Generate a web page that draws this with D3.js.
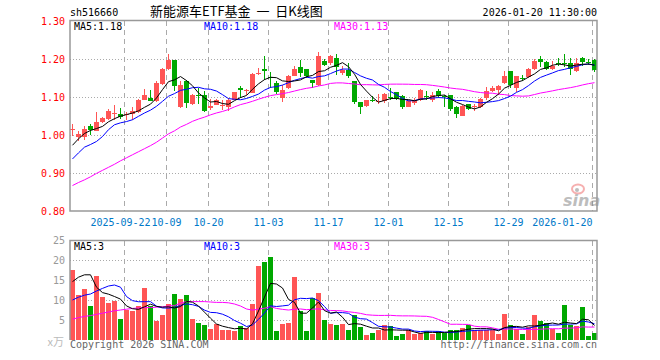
<!DOCTYPE html>
<html>
<head>
<meta charset="utf-8">
<script src="https://cdn.jsdelivr.net/npm/d3@7"></script>
<style>
  body { margin: 0; background: #fff; }
  text { font-family: "DejaVu Sans Mono", monospace; font-size: 10px; }
</style>
</head>
<body>
<div id="chart"></div>
<script>
// trading days shown (2025-09-09 .. 2026-01-20)
const dates = ["09-09","09-10","09-11","09-12","09-15","09-16","09-17","09-18","09-19","09-22","09-23","09-24","09-25","09-26","09-29","09-30",
  "10-09","10-10","10-13","10-14","10-15","10-16","10-17","10-20","10-21","10-22","10-23","10-24","10-27","10-28","10-29","10-30","10-31",
  "11-03","11-04","11-05","11-06","11-07","11-10","11-11","11-12","11-13","11-14","11-17","11-18","11-19","11-20","11-21","11-24","11-25","11-26","11-27","11-28",
  "12-01","12-02","12-03","12-04","12-05","12-08","12-09","12-10","12-11","12-12","12-15","12-16","12-17","12-18","12-19","12-22","12-23","12-24","12-25","12-26","12-29","12-30","12-31",
  "01-05","01-06","01-07","01-08","01-09","01-12","01-13","01-14","01-15","01-16","01-19","01-20"];

const open = [1.013,0.994,0.994,1.025,1.011,1.035,1.042,1.057,1.056,1.052,
  1.056,1.060,1.093,1.098,1.089,1.135,1.174,1.198,1.074,1.141,
  1.082,1.105,1.106,1.072,1.080,1.076,1.074,1.093,1.124,1.115,
  1.111,1.162,1.175,1.152,1.137,1.097,1.125,1.156,1.178,1.174,
  1.144,1.132,1.194,1.189,1.203,1.163,1.170,1.143,1.086,1.077,
  1.093,1.088,1.089,1.101,1.112,1.102,1.075,1.084,1.093,1.102,
  1.093,1.117,1.102,1.104,1.074,1.051,1.082,1.075,1.074,1.098,
  1.115,1.119,1.137,1.168,1.124,1.150,1.153,1.174,1.200,1.191,
  1.175,1.190,1.190,1.189,1.168,1.203,1.193,1.198];
const close = [1.016,1.003,1.017,1.014,1.035,1.044,1.064,1.058,1.047,1.056,
  1.064,1.093,1.104,1.089,1.137,1.174,1.198,1.128,1.132,1.084,
  1.106,1.103,1.064,1.077,1.091,1.079,1.093,1.112,1.118,1.118,
  1.161,1.164,1.168,1.149,1.112,1.119,1.156,1.175,1.163,1.154,
  1.136,1.207,1.185,1.209,1.179,1.172,1.154,1.086,1.074,1.091,
  1.091,1.090,1.109,1.098,1.095,1.075,1.089,1.093,1.118,1.100,
  1.106,1.102,1.100,1.069,1.054,1.076,1.068,1.076,1.095,1.115,
  1.124,1.128,1.154,1.132,1.154,1.148,1.174,1.196,1.191,1.175,
  1.182,1.189,1.186,1.175,1.189,1.192,1.192,1.170];
const high = [1.029,1.011,1.023,1.028,1.061,1.047,1.069,1.080,1.071,1.061,
  1.074,1.095,1.122,1.119,1.141,1.176,1.214,1.198,1.143,1.146,
  1.108,1.124,1.115,1.095,1.095,1.091,1.097,1.112,1.128,1.122,
  1.163,1.176,1.209,1.166,1.141,1.132,1.159,1.181,1.198,1.174,
  1.146,1.219,1.200,1.211,1.214,1.182,1.189,1.143,1.086,1.093,
  1.102,1.109,1.111,1.125,1.114,1.104,1.093,1.097,1.121,1.115,
  1.112,1.122,1.104,1.104,1.076,1.080,1.082,1.082,1.097,1.126,
  1.128,1.132,1.168,1.168,1.156,1.159,1.177,1.200,1.209,1.194,
  1.196,1.203,1.214,1.203,1.203,1.205,1.200,1.200];
const low = [0.998,0.985,0.986,1.001,1.010,1.032,1.040,1.039,1.042,1.040,
  1.039,1.058,1.091,1.089,1.087,1.132,1.172,1.117,1.071,1.071,
  1.079,1.082,1.061,1.067,1.078,1.066,1.062,1.091,1.097,1.106,
  1.111,1.159,1.146,1.124,1.109,1.086,1.121,1.154,1.153,1.150,
  1.124,1.128,1.182,1.183,1.159,1.159,1.150,1.082,1.055,1.073,
  1.086,1.082,1.083,1.093,1.091,1.069,1.073,1.080,1.089,1.093,
  1.086,1.098,1.075,1.062,1.044,1.049,1.065,1.062,1.071,1.093,
  1.112,1.106,1.135,1.124,1.112,1.141,1.151,1.172,1.179,1.172,
  1.170,1.182,1.179,1.159,1.165,1.181,1.183,1.166];
// volume, 万
const volume = [17.5,11.25,12.75,8.5,16,10.75,9.3,9.8,5.25,7.5,
  7.25,8.5,13,8.5,4.75,6.25,9,11.5,10.25,11.25,
  5.25,4.25,3.75,2.75,4,2.5,2.5,2.25,3.5,3,
  9,18.5,19.5,20.75,2.25,4,4.25,15.75,7.25,2.25,
  10.5,11.75,5,4,3.75,4,2.5,6.25,3.25,1.25,
  1.75,2.5,3.75,3.5,1,1.5,2.5,1.5,1.75,2.25,
  1.5,2.25,1.75,2.5,2.5,3,3.75,2.5,2.5,2.5,
  2.5,1.5,6.5,3.75,2.75,1.5,3.25,6.25,4.75,4.25,
  2.75,1.75,8.75,3.75,3.5,8.25,1,1.75];

// MA values before the window is full (earlier days not shown)
const ma5Head = [0.973,0.990,1.004,1.012];
const ma10Head = [0.937,0.953,0.968,0.975,0.983,0.996,1.014,1.027,1.032];
const ma30Head = [0.867,0.875,0.882,0.890,0.899,0.907,0.915,0.923,0.932,0.940,0.948,0.956,0.964,0.972,0.981,
  0.992,1.003,1.011,1.021,1.028,1.036,1.042,1.047,1.053,1.058,1.062,1.067,1.074,1.080];
const volMa5Head = [14.6,15.7,16.3,16.3];
const volMa10Head = [10.0,10.7,11.2,11.5,12.25,12.9,13.5,13.75,13.2];
const volMa30Head = [5.2,5.6,5.9,6.1,6.4,6.7,7.0,7.3,7.5,7.7,7.9,8.0,8.1,8.1,8.2,8.3,8.5,8.6,9.2,9.6,9.6,9.6,9.6,9.5,9.4,9.4,9.3,9.0,8.5];

const tickDates = ["09-22","10-09","10-20","11-03","11-17","12-01","12-15","12-29","01-20"];
const tickLabels = ["2025-09-22","10-09","10-20","11-03","11-17","12-01","12-15","12-29","2026-01-20"];
const priceTicks = [0.8,0.9,1.0,1.1,1.2,1.3];
const volTicks = [5,10,15,20,25];
const maLegend = ["MA5:1.18","MA10:1.18","MA30:1.13"];
const volLegend = ["MA5:3","MA10:3","MA30:3"];

const RED = "#ff5555", GREEN = "#00a800";
const maColors = ["#000000","#0000ff","#ff00ff"];

const W = 660, H = 360;
const L = 70, R = 597;
const svg = d3.select("#chart").append("svg").attr("width", W).attr("height", H);

const x = d3.scaleBand().domain(dates).range([L, L + dates.length * 6]);
const y = d3.scaleLinear().domain([0.8, 1.3]).range([211, 21]);
const yv = d3.scaleLinear().domain([0, 25]).range([340, 240]);
const cx = d => x(d) + 2.5;

function movingAvg(vals, n, head) {
  return vals.map((v, i) => i < n - 1 ? head[i] : d3.mean(vals.slice(i - n + 1, i + 1)));
}

// --- header
svg.append("text").attr("x", 70).attr("y", 16).text("sh516660");
svg.append("text").attr("x", 150).attr("y", 16)
  .style("font-family", "'Noto Sans CJK SC'").style("font-size", "13px").style("white-space", "pre")
  .text("新能源车ETF基金  一  日K线图");
svg.append("text").attr("x", 597).attr("y", 16).attr("text-anchor", "end").text("2026-01-20 11:30:00");

// --- grids
const grid = svg.append("g").attr("stroke", "#aaa").attr("fill", "none").attr("shape-rendering", "crispEdges");
[0.9, 1.0, 1.1, 1.2].forEach(v => {
  grid.append("line").attr("x1", L).attr("x2", R).attr("y1", Math.round(y(v)) + 0.5).attr("y2", Math.round(y(v)) + 0.5)
    .attr("stroke-dasharray", "1,2");
});
[5, 10, 15, 20].forEach(v => {
  grid.append("line").attr("x1", L).attr("x2", R).attr("y1", yv(v) + 0.5).attr("y2", yv(v) + 0.5)
    .attr("stroke-dasharray", "1,2");
});
tickDates.forEach(d => {
  grid.append("line").attr("x1", x(d) + 0.5).attr("x2", x(d) + 0.5).attr("y1", 21).attr("y2", 211).attr("stroke-dasharray", "5,4");
  grid.append("line").attr("x1", x(d) + 0.5).attr("x2", x(d) + 0.5).attr("y1", 241).attr("y2", 340).attr("stroke-dasharray", "5,4");
});

// --- sina watermark
const logo = svg.append("g").attr("opacity", 0.55);
logo.append("ellipse").attr("cx", 578).attr("cy", 189).attr("rx", 6).attr("ry", 4.5)
  .attr("fill", "none").attr("stroke", "#f07070").attr("stroke-width", 2);
logo.append("circle").attr("cx", 577).attr("cy", 190).attr("r", 2).attr("fill", "#888");
logo.append("text").attr("x", 563).attr("y", 206).style("font-family", "'DejaVu Sans'")
  .style("font-size", "16px").style("font-style", "italic").style("font-weight", "bold").attr("fill", "#888").text("sina");

// --- candles
const idx = d3.range(dates.length);
const up = i => close[i] >= open[i];
const cg = svg.append("g").attr("shape-rendering", "crispEdges");
cg.selectAll("rect.wick").data(idx).enter().append("rect")
  .attr("x", i => x(dates[i]) + 2).attr("width", 1)
  .attr("y", i => y(high[i])).attr("height", i => Math.max(1, y(low[i]) - y(high[i])))
  .attr("fill", i => up(i) ? RED : GREEN);
cg.selectAll("rect.body").data(idx).enter().append("rect")
  .attr("x", i => x(dates[i])).attr("width", x.bandwidth() - 1)
  .attr("y", i => y(Math.max(open[i], close[i])))
  .attr("height", i => Math.max(1, Math.abs(y(open[i]) - y(close[i]))))
  .attr("fill", i => up(i) ? RED : GREEN);

// --- volume bars
cg.selectAll("rect.vol").data(idx).enter().append("rect")
  .attr("x", i => x(dates[i])).attr("width", x.bandwidth() - 1)
  .attr("y", i => yv(volume[i])).attr("height", i => yv(0) - yv(volume[i]))
  .attr("fill", i => up(i) ? RED : GREEN);

// --- moving averages
const priceMAs = [movingAvg(close, 5, ma5Head), movingAvg(close, 10, ma10Head), movingAvg(close, 30, ma30Head)];
const volMAs = [movingAvg(volume, 5, volMa5Head), movingAvg(volume, 10, volMa10Head), movingAvg(volume, 30, volMa30Head)];
const priceLine = d3.line().x((v, i) => cx(dates[i])).y(v => y(v));
const volLine = d3.line().x((v, i) => cx(dates[i])).y(v => yv(v));
[2, 1, 0].forEach(k => {
  svg.append("path").attr("d", priceLine(priceMAs[k])).attr("fill", "none").attr("stroke", maColors[k]).attr("stroke-width", 1);
  svg.append("path").attr("d", volLine(volMAs[k])).attr("fill", "none").attr("stroke", maColors[k]).attr("stroke-width", 1);
});

// --- panel frames
const frame = svg.append("g").attr("stroke", "#999").attr("stroke-width", 1.5).attr("fill", "none");
frame.append("rect").attr("x", L).attr("y", 20.5).attr("width", R - L).attr("height", 190.5);
frame.append("path").attr("d", `M${L},340 V240.5 H${R} V340`);

// --- axes
const yAxis = svg.append("g").attr("transform", `translate(${L},0)`)
  .call(d3.axisLeft(y).tickValues(priceTicks).tickFormat(d3.format(".2f")).tickSize(0).tickPadding(5));
yAxis.select(".domain").remove();
yAxis.selectAll("text").attr("fill", "#ff0000").attr("dy", "0.35em")
  .style("font-family", "'DejaVu Sans Mono'").style("font-size", "10px");

const vAxis = svg.append("g").attr("transform", `translate(${L},0)`)
  .call(d3.axisLeft(yv).tickValues(volTicks).tickSize(0).tickPadding(5));
vAxis.select(".domain").remove();
vAxis.selectAll("text").attr("fill", "#999").style("font-family", "'DejaVu Sans Mono'").style("font-size", "10px");
svg.append("text").attr("x", 64).attr("y", 346).attr("text-anchor", "end").attr("fill", "#bbb")
  .style("font-family", "'Noto Sans CJK SC'").style("font-size", "11px").text("x万");

// date labels: first shifted left a bit so it just meets "10-09", last one right-aligned to its grid line
tickDates.forEach((d, i) => {
  const last = i === tickDates.length - 1;
  const tx = last ? x(d) + 0.5 : (i === 0 ? x(d) - 3.5 : x(d) + 0.5);
  svg.append("text").attr("x", tx).attr("y", 226)
    .attr("text-anchor", last ? "end" : "middle").attr("fill", "#0078c8").text(tickLabels[i]);
});

// --- legends
const legX = [74, 204, 334];
maLegend.forEach((t, k) => svg.append("text").attr("x", legX[k]).attr("y", 30).attr("fill", maColors[k]).text(t));
volLegend.forEach((t, k) => svg.append("text").attr("x", legX[k]).attr("y", 250).attr("fill", maColors[k]).text(t));

// --- footer
svg.append("text").attr("x", 70).attr("y", 348).attr("fill", "#666").text("Copyright 2026 SINA.COM");
svg.append("text").attr("x", 597).attr("y", 348).attr("text-anchor", "end").attr("fill", "#666").text("http://finance.sina.com.cn");
</script>
</body>
</html>
